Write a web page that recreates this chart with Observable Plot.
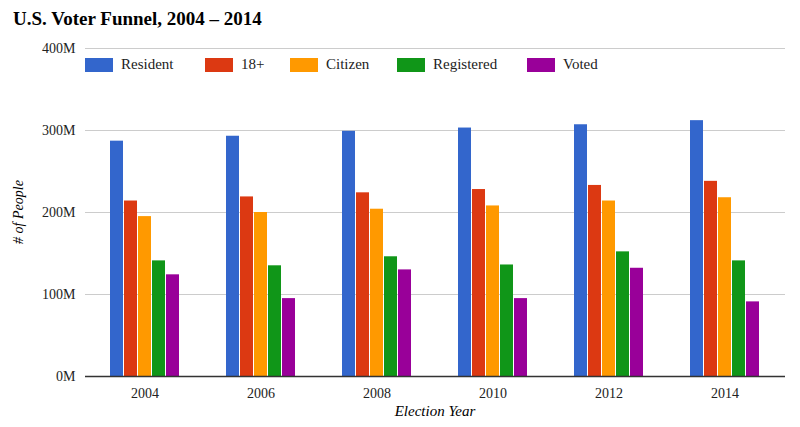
<!DOCTYPE html>
<html><head><meta charset="utf-8">
<script src="https://cdn.jsdelivr.net/npm/d3@7"></script>
<script src="https://cdn.jsdelivr.net/npm/@observablehq/plot@0.6"></script>
<style>
body{margin:0;background:#fff;font-family:Georgia,"Liberation Serif","DejaVu Serif",serif;}
#wrap{position:relative;width:800px;height:427px;}
#title{position:absolute;left:13px;top:8px;font-size:19px;font-weight:bold;color:#000;}
.layer{position:absolute;left:0;top:34px;}
#legend{position:absolute;left:85px;top:56px;display:flex;font-size:15px;color:#222;}
.li{display:flex;align-items:center;}
.sw{width:28px;height:14px;margin-right:8px;}
.ylab{position:absolute;top:212px;left:19px;transform:translate(-50%,-50%) rotate(-90deg);font-style:italic;font-size:14px;white-space:nowrap;}
.xlab{position:absolute;left:435px;top:403px;transform:translateX(-50%);font-style:italic;font-size:15px;}
</style></head><body>
<div id="wrap">
<div id="title">U.S. Voter Funnel, 2004 – 2014</div>
<div id="l1" class="layer"></div>
<div id="l2" class="layer"></div>
<div id="l3" class="layer"></div>
<div id="legend"></div>
<div class="ylab"># of People</div>
<div class="xlab">Election Year</div>
</div>
<script>
const years = ["2004","2006","2008","2010","2012","2014"];
const series = ["Resident","18+","Citizen","Registered","Voted"];
const colors = ["#3366cc","#dc3912","#ff9900","#109618","#990099"];
const resident = [287,293,299,303,307,312];
const adult = [214,219,224,228,233,238];
const citizen = [195,200,204,208,214,218];
const registered = [141,135,146,136,152,141];
const voted = [124,95,130,95,132,91];
const yTicks = [0,100,200,300,400];

const vals = [resident, adult, citizen, registered, voted];
const data = [];
years.forEach((y,i)=>series.forEach((s,j)=>data.push({year:y, series:s, value:vals[j][i]*1e6})));

const W=800,H=393,mt=14,mb=51,ml=85,mr=15;
const yopt = {domain:[0,4e8]};
const font = 'Georgia,"Liberation Serif","DejaVu Serif",serif';

const p1 = Plot.plot({width:W,height:H,marginTop:mt,marginBottom:mb,marginLeft:ml,marginRight:mr,
  style:{fontFamily:font,fontSize:"14px",color:"#222",background:"transparent"},
  y:{...yopt, ticks:yTicks.map(d=>d*1e6), tickFormat:d=>(d/1e6)+"M", tickSize:0, tickPadding:10, label:null},
  marks:[Plot.gridY(yTicks.map(d=>d*1e6),{stroke:"#ccc",strokeOpacity:1})]
});
document.getElementById("l1").append(p1);

const p2 = Plot.plot({width:W,height:H,marginTop:mt,marginBottom:mb,marginLeft:ml,marginRight:mr,
  style:{fontFamily:font,fontSize:"14px",color:"#222",background:"transparent"},
  fx:{domain:years,paddingInner:0.37,paddingOuter:0.19,label:null,tickSize:0,tickPadding:12},
  x:{domain:series,padding:0.05,axis:null},
  y:{...yopt,axis:null},
  color:{domain:series,range:colors},
  marks:[Plot.barY(data,{fx:"year",x:"series",y:"value",fill:"series"})]
});
document.getElementById("l2").append(p2);

const p3 = Plot.plot({width:W,height:H,marginTop:mt,marginBottom:mb,marginLeft:ml,marginRight:mr,
  style:{background:"transparent"},
  y:{...yopt,axis:null},
  marks:[Plot.ruleY([0],{stroke:"#333",strokeWidth:1.3})]
});
document.getElementById("l3").append(p3);

const lg = document.getElementById("legend");
const gaps=[120,85,107,130,80];
series.forEach((s,i)=>{
  const d=document.createElement("div");d.className="li";d.style.width=gaps[i]+"px";
  d.innerHTML=`<span class="sw" style="background:${colors[i]}"></span><span>${s}</span>`;
  lg.append(d);
});
</script>
</body></html>
